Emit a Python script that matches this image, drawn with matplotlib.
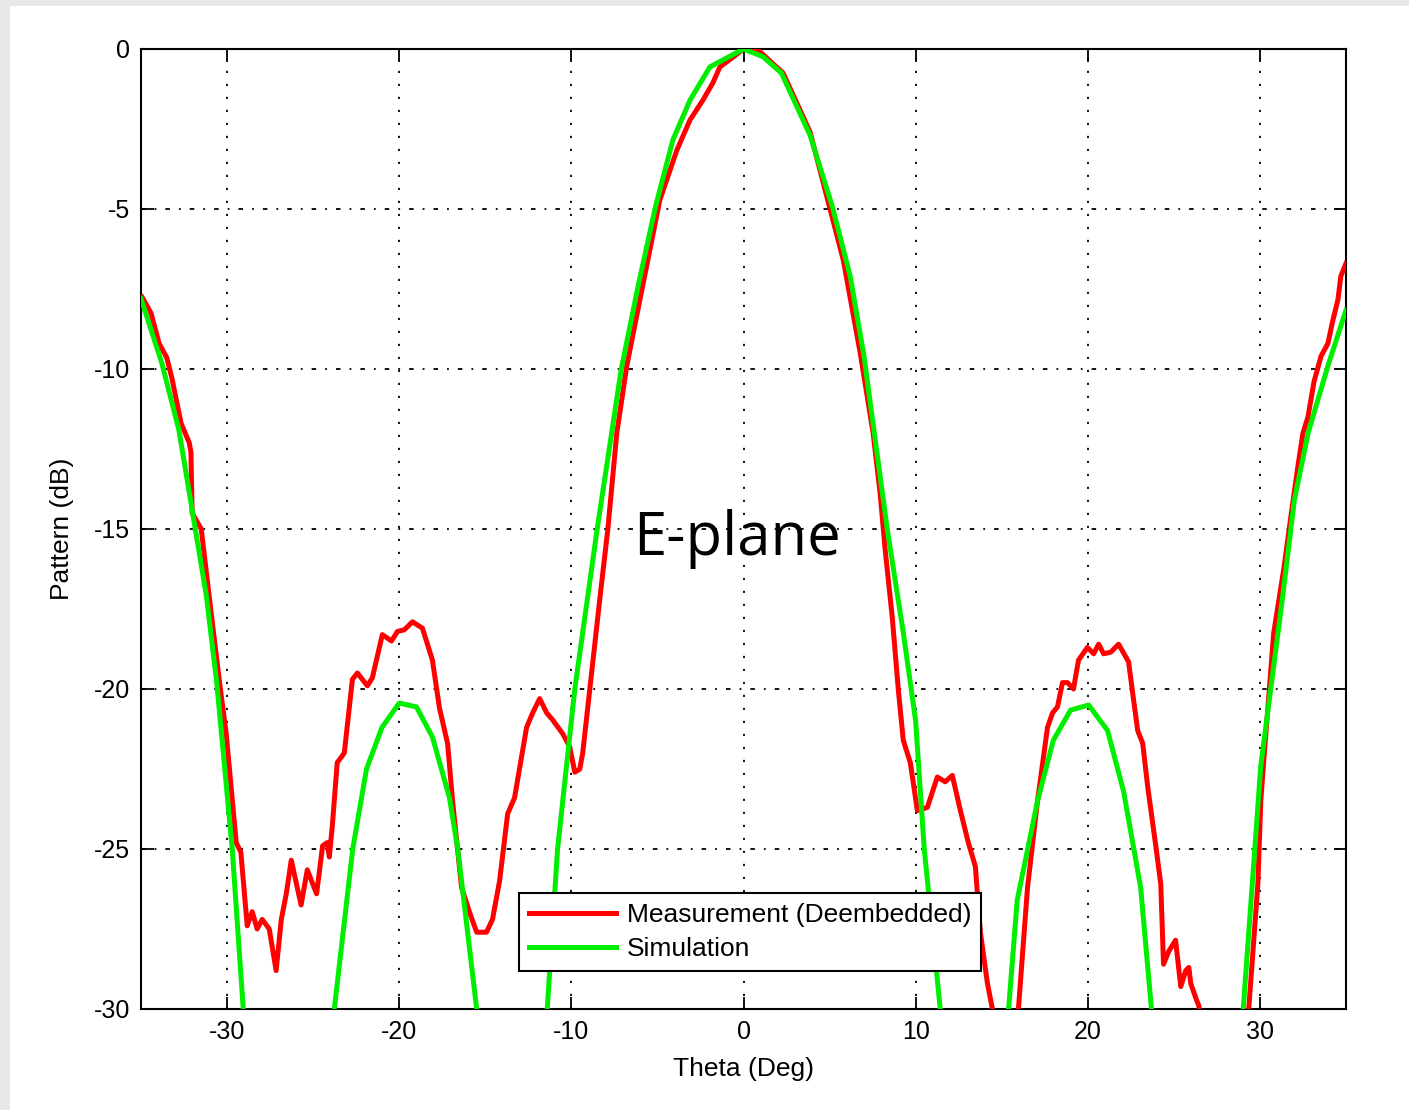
import numpy as np
import matplotlib
matplotlib.use("Agg")
import matplotlib.pyplot as plt
from matplotlib.patches import Rectangle

# simulated E-plane pattern (theta in deg, pattern in dB)
sim_theta = [-35, -33.8, -32.8, -32.0, -31.2, -30.6, -29.7, -29.06, -28.8,
             -24.0, -23.77, -22.7, -21.9, -21.0, -20.0, -19.0, -18.07, -17.08,
             -16.6, -15.5, -15.3,
             -11.6, -11.4, -10.8, -9.8, -8.5, -7.1, -6.1, -5.1, -4.1, -3.11,
             -1.95, 0.0, 1.13, 2.2, 3.87, 5.15, 6.2, 7.0, 8.35, 9.3, 10.0,
             10.5, 11.43, 11.6,
             15.2, 15.4, 15.9, 17.08, 18.0, 19.0, 20.05, 21.15, 22.08, 23.07,
             23.7, 24.0,
             28.8, 29.03, 30.05, 31.3, 32.0, 32.8, 33.95, 35.0]
sim_db = [-7.8, -9.8, -11.9, -14.5, -17.1, -19.8, -25.0, -30.0, -32.0,
          -32.0, -30.0, -25.0, -22.5, -21.2, -20.44, -20.56, -21.5, -23.4,
          -25.0, -30.0, -32.0,
          -32.0, -30.0, -25.0, -20.0, -15.0, -10.0, -7.35, -4.9, -2.84, -1.6,
          -0.56, 0.0, -0.24, -0.75, -2.7, -4.9, -7.1, -9.6, -15.0, -18.3, -21.0,
          -25.0, -30.0, -32.0,
          -32.0, -30.0, -26.6, -23.5, -21.6, -20.66, -20.5, -21.3, -23.2, -26.2,
          -30.0, -32.0,
          -32.0, -30.0, -22.4, -17.2, -14.1, -12.0, -9.9, -8.16]

# measured (deembedded) pattern
meas_theta = [-34.94, -34.42, -33.95, -33.5, -33.2, -32.67, -32.2, -32.1, -32.03,
              -31.5, -31.04, -30.46, -30.05, -29.47, -29.2, -28.83, -28.54,
              -28.25, -27.96, -27.55, -27.15, -26.85, -26.56, -26.27, -25.7,
              -25.34, -24.8, -24.45, -24.18, -24.06, -23.89, -23.6, -23.19,
              -22.72, -22.43, -21.85, -21.56, -20.98, -20.45, -20.1, -19.7,
              -19.23, -18.65, -18.07, -17.66, -17.19, -16.9, -16.38, -15.9,
              -15.5, -14.93, -14.58, -14.17, -13.7, -13.3, -12.6, -12.25,
              -11.84, -11.43, -11.08, -10.5, -10.1, -9.8, -9.51, -9.34, -8.93,
              -8.35, -7.88, -7.36, -6.78, -6.02, -4.86, -3.87, -3.11, -2.36,
              -1.78, -1.37, -0.67, 0.0, 0.78, 2.3, 3.87, 5.8, 6.78, 7.53, 7.94,
              8.23, 8.64, 8.99, 9.28, 9.69, 10.1, 10.68, 11.26, 11.72, 12.13,
              12.6, 13.06, 13.47, 13.76, 14.17, 14.46, 14.7,
              15.7, 15.97, 16.5, 17.08, 17.66, 17.95, 18.24, 18.53, 18.82,
              19.17, 19.46, 19.98, 20.34, 20.63, 20.92, 21.33, 21.79, 22.37,
              22.6, 22.9, 23.19, 23.48, 23.95, 24.24, 24.4, 24.7, 25.1, 25.4,
              25.69, 25.87, 25.98, 26.27, 26.45, 26.6,
              29.1, 29.35, 29.88, 30.05, 30.2, 30.8, 31.4, 31.8, 32.2, 32.5,
              32.79, 33.14, 33.55, 33.95, 34.24, 34.53, 34.7, 35.0]
meas_db = [-7.75, -8.25, -9.2, -9.65, -10.3, -11.7, -12.3, -12.6, -14.5,
           -15.0, -17.1, -19.7, -21.4, -24.8, -25.1, -27.4, -26.96,
           -27.5, -27.2, -27.5, -28.8, -27.2, -26.4, -25.35, -26.75,
           -25.65, -26.4, -24.9, -24.8, -25.25, -24.3, -22.3, -22.0,
           -19.7, -19.5, -19.9, -19.65, -18.3, -18.5, -18.2, -18.15,
           -17.9, -18.1, -19.1, -20.6, -21.7, -23.5, -26.2, -27.0,
           -27.6, -27.6, -27.2, -26.0, -23.9, -23.4, -21.2, -20.75,
           -20.3, -20.75, -20.97, -21.4, -21.8, -22.6, -22.5, -22.0, -20.0,
           -17.2, -15.0, -12.0, -9.9, -7.84, -4.72, -3.16, -2.22, -1.6,
           -1.06, -0.56, -0.28, 0.0, 0.0, -0.75, -2.6, -6.6, -9.5, -12.0, -13.9,
           -15.65, -17.75, -20.0, -21.6, -22.3, -23.8, -23.7, -22.75, -22.9, -22.7,
           -23.8, -24.8, -25.55, -27.6, -29.2, -30.0, -31.0,
           -31.0, -30.0, -26.2, -23.5, -21.2, -20.75, -20.56, -19.8, -19.8,
           -20.0, -19.1, -18.7, -18.9, -18.6, -18.9, -18.85, -18.6, -19.15,
           -20.1, -21.3, -21.7, -23.05, -24.9, -26.1, -28.6, -28.2, -27.85, -29.3,
           -28.8, -28.7, -29.2, -29.65, -29.9, -30.5,
           -31.0, -30.0, -26.1, -23.5, -22.4, -18.25, -16.2, -14.6, -13.06, -12.0,
           -11.5, -10.4, -9.6, -9.2, -8.47, -7.84, -7.1, -6.7]

xticks = [-30, -20, -10, 0, 10, 20, 30]
yticks = [-30, -25, -20, -15, -10, -5, 0]

plt.rcParams['font.family'] = ['Liberation Sans', 'DejaVu Sans']
plt.rcParams['axes.unicode_minus'] = False

fig = plt.figure(figsize=(14.09, 11.10), dpi=100, facecolor='#e8e8e8')
# white page area behind the plot, grey slide border on top/left
fig.patches.append(Rectangle((10 / 1409, 0), 1 - 10 / 1409, 1 - 6 / 1110,
                             transform=fig.transFigure, facecolor='white',
                             edgecolor='none', zorder=-10))

ax = fig.add_axes([141 / 1409, 1 - 1009 / 1110, 1205 / 1409, 960 / 1110])
ax.plot(meas_theta, meas_db, color='#ff0000', lw=3.6,
        label='Measurement (Deembedded)', zorder=3)
ax.plot(sim_theta, sim_db, color='#00ee00', lw=3.6, label='Simulation', zorder=3)

ax.set_xlim(-35, 35)
ax.set_ylim(-30, 0)
ax.set_xticks(xticks)
ax.set_yticks(yticks)
ax.tick_params(direction='in', length=9, width=1.3, labelsize=18,
               top=True, right=True, pad=8)
ax.xaxis.grid(True, color='black', lw=1.3, linestyle=(0, (1.2, 6)))
ax.yaxis.grid(True, color='black', lw=1.3, linestyle=(0, (2.5, 5, 1, 5)))
ax.set_axisbelow(True)
for sp in ax.spines.values():
    sp.set_linewidth(1.5)

ax.set_xlabel('Theta (Deg)', fontsize=19, labelpad=9)
ax.set_ylabel('Pattern (dB)', fontsize=19, labelpad=14)

ax.text(-0.4, -15.3, 'E-plane', fontsize=43, family='Open Sans',
        ha='center', va='center', zorder=4)

leg = ax.legend(loc='lower left', bbox_to_anchor=(0.3137, 0.0396),
                borderaxespad=0, fontsize=19, handlelength=3.3,
                fancybox=False, framealpha=1, edgecolor='black',
                borderpad=0.38, labelspacing=0.36, handletextpad=0.4)
leg.get_frame().set_linewidth(1.5)
leg.set_zorder(5)

fig.savefig('out.png', dpi=100, facecolor=fig.get_facecolor())
